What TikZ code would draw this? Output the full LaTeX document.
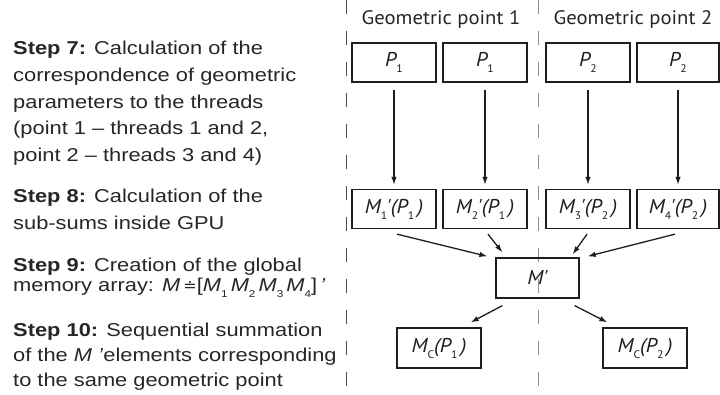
\documentclass[tikz,border=0pt]{standalone}
\usepackage{fontspec}
\setmainfont{Liberation Sans}[FakeStretch=1.175]
\newfontfamily\hfont{PT Sans}[FakeStretch=1.06]
\newfontfamily\symfont{DejaVu Sans}
\usetikzlibrary{arrows.meta}
\definecolor{ink}{HTML}{1E1E1E}
\definecolor{tink}{HTML}{262626}
\newcommand{\lsub}[1]{\raisebox{-0.3em}{\fontsize{10}{10}\selectfont #1}}
\newcommand{\bsub}[1]{\raisebox{-0.3em}{\fontsize{11}{11}\selectfont\upshape #1}}
\newcommand{\bpr}[1]{\bsub{#1}\kern-0.5pt'}
\begin{document}
\begin{tikzpicture}[x=1pt,y=-1pt,
  txt/.style={anchor=base west,inner sep=0pt,font=\fontsize{18.6}{20}\selectfont,text=tink},
  hdr/.style={inner sep=0pt,font=\hfont\fontsize{19.5}{22}\selectfont,text=tink},
  box/.style={draw=ink,line width=1.3pt,minimum width=84pt,minimum height=39pt,inner sep=0pt,
    font=\hfont\itshape\fontsize{20}{22}\selectfont,text=ink},
  arr/.style={draw=ink,line width=1.3pt,-{Latex[length=8pt,width=5.5pt]}},
  sep/.style={line width=1pt,dash pattern=on 14pt off 17pt}]
\useasboundingbox (0,0) rectangle (720,395);
% separators
\coordinate (l1t) at (346,0); \coordinate (l1b) at (346,395);
\coordinate (l2t) at (538,0); \coordinate (l2b) at (538,395);
\draw[sep,draw=black!70] (l1t) -- (l1b);
\draw[sep,draw=black!45] (l2t) -- (l2b);
% headers
\node[hdr] (h1) at (441,20) {Geometric point 1};
\node[hdr] (h2) at (633,20) {Geometric point 2};
% top boxes
\node[box] (p1) at (394,62.5) {P\bsub{1}};
\node[box] (p2) at (485,62.5) {P\bsub{1}};
\node[box] (p3) at (588,62.5) {P\bsub{2}};
\node[box,minimum width=82pt] (p4) at (678,62.5) {P\bsub{2}};
% M' boxes
\node[box] (m1) at (394,209) {M\bpr{1}(P\bsub{1}\,)};
\node[box] (m2) at (485,209) {M\bpr{2}(P\bsub{1}\,)};
\node[box] (m3) at (588,209) {M\bpr{3}(P\bsub{2}\,)};
\node[box,minimum width=82pt] (m4) at (678,209) {M\bpr{4}(P\bsub{2}\,)};
% central
\node[box,minimum width=83pt,minimum height=40pt] (mp) at (537.5,278) {M'};
% results
\node[box,minimum height=40pt] (c1) at (439,348) {M\bsub{C}(P\bsub{1}\,)};
\node[box,minimum height=40pt] (c2) at (645,348) {M\bsub{C}(P\bsub{2}\,)};
% arrows
\foreach \i in {1,2,3,4}
  \draw[arr,shorten <=7pt,shorten >=4pt] (p\i.south) -- (m\i.north);
\draw[arr] ([shift={(3,5)}]m1.south) -- ([shift={(-8,-1)}]mp.north west);
\draw[arr] ([shift={(3,5)}]m2.south) -- ([shift={(7,-5)}]mp.north west);
\draw[arr] ([shift={(-1,5)}]m3.south) -- ([shift={(-7,-3)}]mp.north east);
\draw[arr] ([shift={(-3,5)}]m4.south) -- ([shift={(8,-1)}]mp.north east);
\draw[arr] ([shift={(7,7)}]mp.south west) -- ([shift={(-11,-5)}]c1.north east);
\draw[arr] ([shift={(-5,7)}]mp.south east) -- ([shift={(5,-5)}]c2.north west);
% left text
\node[txt] (s7a) at (13,55) {\textbf{Step 7:} Calculation of the};
\node[txt] (s7b) at (13,81.7) {correspondence of geometric};
\node[txt] (s7c) at (13,108.3) {parameters to the threads};
\node[txt] (s7d) at (13,135) {(point 1 -- threads 1 and 2,};
\node[txt] (s7e) at (13,161.7) {point 2 -- threads 3 and 4)};
\node[txt] (s8a) at (13,203) {\textbf{Step 8:} Calculation of the};
\node[txt] (s8b) at (13,229.5) {sub-sums inside GPU};
\node[txt] (s9a) at (13,271.5) {\textbf{Step 9:} Creation of the global};
\node[txt] (s9b) at (13,292) {memory array: \textit{M}\,{\symfont\fontsize{16}{18}\selectfont ≐}[\textit{M}\lsub{1}\,\textit{M}\lsub{2}\,\textit{M}\lsub{3}\,\textit{M}\lsub{4}]\,\textit{'}};
\node[txt] (s10a) at (13,336.7) {\textbf{Step 10:} Sequential summation};
\node[txt] (s10b) at (13,361.7) {of the \textit{M} \textit{'}elements corresponding};
\node[txt] (s10c) at (13,386.7) {to the same geometric point};
\end{tikzpicture}
\end{document}
